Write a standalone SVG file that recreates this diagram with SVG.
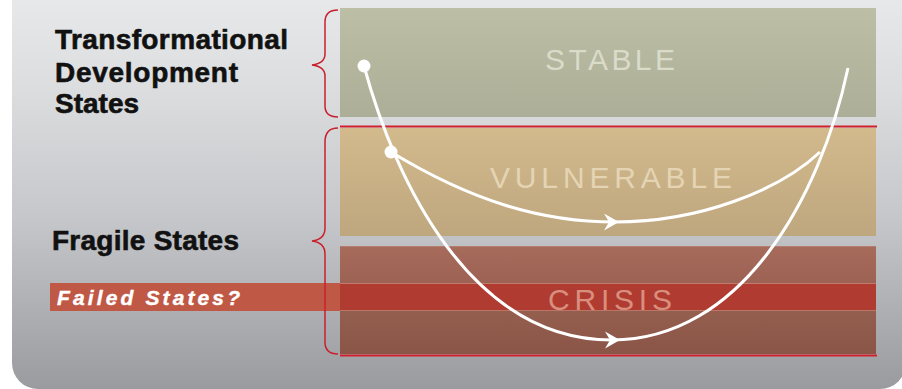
<svg xmlns="http://www.w3.org/2000/svg" width="902" height="389" viewBox="0 0 902 389">
  <defs>
    <linearGradient id="gPanel" x1="0" y1="0" x2="0" y2="1">
      <stop offset="0" stop-color="#ecedee"/>
      <stop offset="0.3" stop-color="#dcdddf"/>
      <stop offset="0.6" stop-color="#c6c7ca"/>
      <stop offset="1" stop-color="#9a9b9e"/>
    </linearGradient>
    <linearGradient id="gStable" x1="0" y1="0" x2="0" y2="1">
      <stop offset="0" stop-color="#bcbea5"/>
      <stop offset="1" stop-color="#acae97"/>
    </linearGradient>
    <linearGradient id="gVuln" x1="0" y1="0" x2="0" y2="1">
      <stop offset="0" stop-color="#d3ba8d"/>
      <stop offset="1" stop-color="#bea67e"/>
    </linearGradient>
    <linearGradient id="gCrisisTop" x1="0" y1="0" x2="0" y2="1">
      <stop offset="0" stop-color="#a76b5b"/>
      <stop offset="1" stop-color="#9c6253"/>
    </linearGradient>
    <linearGradient id="gCrisisBot" x1="0" y1="0" x2="0" y2="1">
      <stop offset="0" stop-color="#955f50"/>
      <stop offset="1" stop-color="#8a5546"/>
    </linearGradient>
    <path id="arrowHead" d="M0,0 L-15,-8.5 L-10,0 L-15,8.5 Z"/>
    <style>
      .lbl { font-family: "Liberation Sans", Arial, sans-serif; font-weight: bold; font-size: 28px; fill: #111111; stroke: #111111; stroke-width: 0.6px; }
      .band { font-family: "Liberation Sans", Arial, sans-serif; font-size: 30px; }
      .brace { fill: none; stroke: #c8202e; stroke-width: 1.5; }
      .redline { stroke: #d0202c; stroke-width: 2.2; }
      .curve { fill: none; stroke: #ffffff; stroke-width: 3; }
      .dot { fill: #ffffff; }
      .ah { fill: #ffffff; }
    </style>
  </defs>

  <rect width="902" height="389" fill="#ffffff"/>
  <rect id="panel" x="12" y="-40" width="894" height="429" rx="26" fill="url(#gPanel)"/>

  <g id="stable">
    <rect x="340" y="8" width="536" height="109" fill="url(#gStable)"/>
    <text class="band" x="545" y="70" textLength="130" lengthAdjust="spacing" fill="#dadbc9">STABLE</text>
  </g>

  <g id="vulnerable">
    <line class="redline" x1="340" y1="126.5" x2="877" y2="126.5"/>
    <rect x="340" y="128" width="536" height="108" fill="url(#gVuln)"/>
    <text class="band" x="490" y="188" textLength="242" lengthAdjust="spacing" fill="#e4d4b4">VULNERABLE</text>
  </g>

  <g id="failed-states">
    <rect x="50" y="283" width="290" height="28" fill="#c05846"/>
    <text x="57" y="305" font-family="'Liberation Sans', Arial, sans-serif" font-weight="bold" font-style="italic" font-size="21" fill="#ffffff" stroke="#ffffff" stroke-width="0.4" textLength="183" lengthAdjust="spacing">Failed States?</text>
  </g>

  <g id="crisis">
    <rect x="340" y="246" width="536" height="37" fill="url(#gCrisisTop)"/>
    <rect x="340" y="283" width="536" height="27" fill="#b03b31"/>
    <rect x="340" y="310" width="536" height="44" fill="url(#gCrisisBot)"/>
    <line x1="340" y1="246.5" x2="876" y2="246.5" stroke="#b47d6e" stroke-width="1"/>
    <line x1="340" y1="283.5" x2="876" y2="283.5" stroke="#c27a6c" stroke-width="1"/>
    <line x1="340" y1="310.5" x2="876" y2="310.5" stroke="#b97666" stroke-width="1"/>
    <line class="redline" x1="340" y1="355.5" x2="877" y2="355.5"/>
    <text class="band" x="548" y="310" textLength="124" lengthAdjust="spacing" fill="#d98f7e">CRISIS</text>
  </g>

  <g id="braces">
    <path class="brace" d="M338,10 C329,10 325,14 325,22 L325,54 C325,61 320,64 312,65 C320,66 325,69 325,76 L325,106 C325,113 329,117 338,117"/>
    <path class="brace" d="M338,128 C329,128 325,133 325,142 L325,228 C325,236 320,240 312,241 C320,242 325,246 325,254 L325,342 C325,350 329,354 338,354"/>
  </g>

  <g id="labels">
    <text class="lbl" x="55" y="49" textLength="233" lengthAdjust="spacing">Transformational</text>
    <text class="lbl" x="55" y="82" textLength="183" lengthAdjust="spacing">Development</text>
    <text class="lbl" x="55" y="113">States</text>
    <text class="lbl" x="52" y="250" textLength="187" lengthAdjust="spacing">Fragile States</text>
  </g>

  <g id="connectors">
    <path class="curve" d="M364,66 C395,180 470,340 612,340 C740,340 820,200 848,68"/>
    <path class="curve" d="M391,152 C470,200 540,222 615,222 C700,222 780,190 820,152"/>
    <use href="#arrowHead" class="ah" transform="translate(620,340)"/>
    <use href="#arrowHead" class="ah" transform="translate(619,222)"/>
    <circle class="dot" cx="364" cy="66" r="6.5"/>
    <circle class="dot" cx="391" cy="152" r="6.5"/>
  </g>
</svg>
